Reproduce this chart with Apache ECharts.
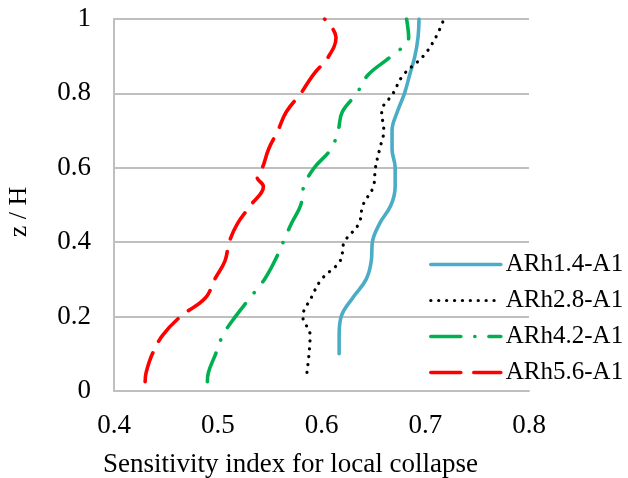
<!DOCTYPE html>
<html><head><meta charset="utf-8">
<script src="https://cdn.jsdelivr.net/npm/echarts@6/dist/echarts.min.js"></script>
<style>html,body{margin:0;padding:0;background:#fff}#c{width:628px;height:478px}</style>
</head><body><div id="c"></div>
<script>
const seriesNames = ['ARh1.4-A1','ARh2.8-A1','ARh4.2-A1','ARh5.6-A1'];
// z/H heights and sensitivity values
const zBlue  = [0.10,0.15,0.20,0.25,0.30,0.35,0.40,0.45,0.50,0.55,0.60,0.65,0.70,0.75,0.80,0.85,0.90,0.95,1.00];
const xBlue  = [0.617,0.617,0.619,0.630,0.643,0.648,0.649,0.656,0.667,0.671,0.671,0.668,0.668,0.673,0.680,0.685,0.690,0.693,0.694];
const zBlack = [0.05,0.10,0.15,0.20,0.25,0.30,0.35,0.40,0.45,0.50,0.55,0.60,0.65,0.70,0.75,0.80,0.85,0.90,0.95,1.00];
const xBlack = [0.586,0.588,0.589,0.582,0.590,0.600,0.618,0.622,0.636,0.640,0.650,0.652,0.656,0.660,0.658,0.669,0.679,0.698,0.710,0.718];
const zGreen = [0.025,0.05,0.10,0.15,0.20,0.25,0.30,0.35,0.40,0.45,0.50,0.55,0.60,0.65,0.70,0.75,0.80,0.85,0.90,0.95,1.00];
const xGreen = [0.490,0.491,0.498,0.505,0.517,0.531,0.545,0.555,0.563,0.571,0.580,0.583,0.593,0.609,0.616,0.620,0.634,0.645,0.667,0.684,0.682];
const zRed   = [0.025,0.05,0.10,0.15,0.20,0.25,0.30,0.35,0.40,0.45,0.50,0.55,0.575,0.60,0.65,0.70,0.75,0.80,0.85,0.90,0.95,1.00];
const xRed   = [0.430,0.431,0.437,0.447,0.464,0.488,0.497,0.507,0.511,0.519,0.532,0.544,0.538,0.543,0.549,0.558,0.566,0.580,0.592,0.607,0.614,0.603];
const xTicks = [0.4,0.5,0.6,0.7,0.8];
const yTicks = [0,0.2,0.4,0.6,0.8,1];

function pairs(xs, zs){ return xs.map((v,i)=>[v, zs[i]]); }
const font = '"Liberation Serif","Times New Roman",serif';
const chart = echarts.init(document.getElementById('c'), null, {renderer:'canvas'});
const styles = [
  {color:'#4bacc6', width:3.6, type:'solid'},
  {color:'#000000', width:3.2, type:[0.1,7.8]},
  {color:'#00b050', width:3.6, type:[30,14,0.1,14]},
  {color:'#ff0000', width:3.6, type:[30,13]}
];
const datas = [pairs(xBlue,zBlue), pairs(xBlack,zBlack), pairs(xGreen,zGreen), pairs(xRed,zRed)];
chart.setOption({
  animation:false,
  grid:{left:114, right:99, top:19, bottom:87, containLabel:false, outerBoundsMode:'none'},
  xAxis:{type:'value', min:xTicks[0], max:xTicks[xTicks.length-1], interval:0.1,
    name:'Sensitivity index for local collapse', nameLocation:'middle', nameGap:60,
    nameTextStyle:{fontFamily:font, fontSize:27, color:'#000', padding:[0,62,0,0]},
    axisLine:{show:true, lineStyle:{color:'#bfbfbf', width:2}},
    axisTick:{show:false}, splitLine:{show:false},
    axisLabel:{fontFamily:font, fontSize:27, color:'#000', margin:21, formatter:v=>v.toFixed(1)}},
  yAxis:{type:'value', min:yTicks[0], max:yTicks[yTicks.length-1], interval:0.2,
    name:'z / H', nameLocation:'middle', nameGap:82, nameRotate:90,
    nameTextStyle:{fontFamily:font, fontSize:26, color:'#000', padding:[0,14,0,0]},
    axisLine:{show:true, lineStyle:{color:'#bfbfbf', width:2}},
    axisTick:{show:false},
    splitLine:{show:true, lineStyle:{color:'#bfbfbf', width:2}},
    axisLabel:{fontFamily:font, fontSize:27, color:'#000', margin:23, formatter:v=>String(Math.round(v*10)/10)}},
  legend:{orient:'vertical', left:424, top:247, itemWidth:70, itemHeight:14, itemGap:11,
    itemStyle:{opacity:0},
    textStyle:{fontFamily:font, fontSize:25, color:'#000', padding:[0,0,0,0]},
    data:seriesNames.map((n,i)=>({name:n,
      lineStyle:{color:styles[i].color, width:styles[i].width, type:styles[i].type, cap:'round', opacity:1}}))},
  series:seriesNames.map((n,i)=>({
    name:n, type:'line', data:datas[i], smooth:0.4, symbol:'none', showSymbol:false,
    lineStyle:{color:styles[i].color, width:styles[i].width, type:styles[i].type, cap:'round', join:'round'},
    itemStyle:{color:styles[i].color}
  }))
});
</script></body></html>
